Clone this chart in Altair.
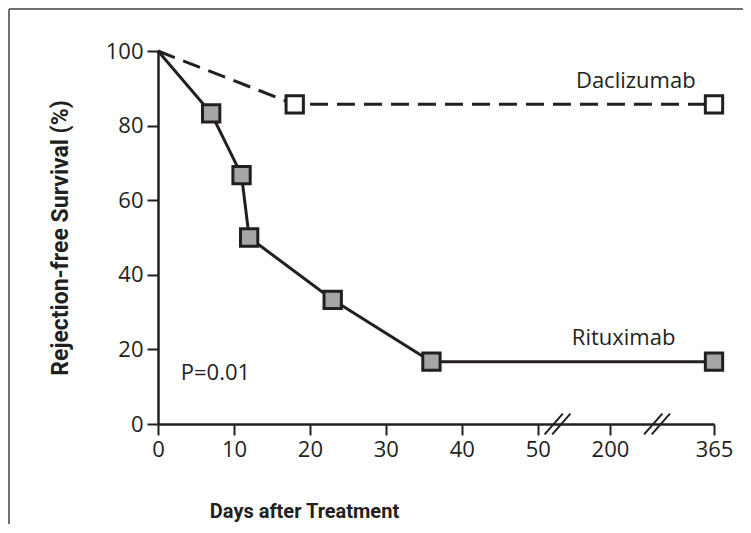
import altair as alt
import numpy as np
import pandas as pd

# ---- data ----
ritux_days = [0, 7, 11, 12, 23, 36, 365]
ritux_surv = [100, 83.3, 66.7, 50.0, 33.3, 16.7, 16.7]
dacli_days = [0, 18, 365]
dacli_surv = [100, 85.7, 85.7]

x_tick_days = [0, 10, 20, 30, 40, 50, 200, 365]
y_ticks = [0, 20, 40, 60, 80, 100]

# broken axis: piecewise-linear display scale
anchor_days = [0, 50, 200, 365]
anchor_pos = [0, 50, 59.5, 73.2]
break_pos = [52.6, 65.7]


def to_pos(d):
    return float(np.interp(d, anchor_days, anchor_pos))


INK = "#231f20"
FONT = "Open Sans"
TFONT = "Roboto"

W, H = 556, 373
XMAX = anchor_pos[-1]

rit = pd.DataFrame({"day": ritux_days, "surv": ritux_surv, "series": "Rituximab"})
dac = pd.DataFrame({"day": dacli_days, "surv": dacli_surv, "series": "Daclizumab"})
for df in (rit, dac):
    df["pos"] = df["day"].map(to_pos)

tick_pos = [to_pos(d) for d in x_tick_days]
label_expr = "".join(
    f"abs(datum.value - {p}) < 0.01 ? '{d}' : " for p, d in zip(tick_pos, x_tick_days)
) + "datum.label"

xscale = alt.Scale(domain=[0, XMAX], nice=False, zero=True)
yscale = alt.Scale(domain=[0, 100], nice=False)

xaxis = alt.Axis(
    values=tick_pos, labelExpr=label_expr, title="Days after Treatment",
    titleX=146, titleY=93, titleAlign="center", titleBaseline="alphabetic",
    titleAnchor="start", labelFlush=False, titleFontSize=20,
)
yaxis = alt.Axis(
    values=y_ticks, title="Rejection-free Survival (%)",
    titleX=-98, titleY=H / 2, titleAngle=-90, titleAlign="center",
    titleBaseline="middle", titleAnchor="start", labelFlush=False, titleFontSize=23,
)

X = alt.X("pos:Q", scale=xscale, axis=xaxis)
Y = alt.Y("surv:Q", scale=yscale, axis=yaxis)

line_r = alt.Chart(rit).mark_line(color=INK, strokeWidth=3).encode(x=X, y=Y)
line_d = alt.Chart(dac).mark_line(color=INK, strokeWidth=3, strokeDash=[18, 9]).encode(x=X, y=Y)

pts_r = alt.Chart(rit[rit.day > 0]).mark_point(
    shape="square", size=300, filled=True, fill="#a6a6a6", stroke=INK, strokeWidth=3, opacity=1
).encode(x="pos:Q", y="surv:Q")
pts_d = alt.Chart(dac[dac.day > 0]).mark_point(
    shape="square", size=300, filled=True, fill="white", stroke=INK, strokeWidth=3, opacity=1
).encode(x="pos:Q", y="surv:Q")

# labels
ann = pd.DataFrame({
    "pos": [62.9, 61.3],
    "surv": [90.0, 21.2],
    "txt": ["Daclizumab", "Rituximab"],
})
txt = alt.Chart(ann).mark_text(font=FONT, fontSize=22, color=INK, align="center", baseline="alphabetic").encode(
    x="pos:Q", y="surv:Q", text="txt:N")
pval = alt.Chart(pd.DataFrame({"pos": [3.0], "surv": [11.8], "txt": ["P=0.01"]})).mark_text(
    font=FONT, fontSize=22, color=INK, align="left", baseline="alphabetic").encode(
    x="pos:Q", y="surv:Q", text="txt:N")

# axis break marks "//"
brk_rows = []
for b in break_pos:
    for off in (-0.5, 0.5):
        brk_rows.append({"x1": b + off - 1.2, "y1": -2.8, "x2": b + off + 1.2, "y2": 2.8})
brk = alt.Chart(pd.DataFrame(brk_rows)).mark_rule(color=INK, strokeWidth=2, clip=False).encode(
    x="x1:Q", y="y1:Q", x2="x2:Q", y2="y2:Q")

# outer frame (top and left edges)
one = pd.DataFrame({"a": [0]})
frame_top = alt.Chart(one).mark_rule(color="#707070", strokeWidth=2).encode(
    x=alt.value(-149), x2=alt.value(590), y=alt.value(-42))
frame_left = alt.Chart(one).mark_rule(color="#707070", strokeWidth=2).encode(
    x=alt.value(-149), y=alt.value(-42), y2=alt.value(480))

chart = alt.layer(
    frame_top, frame_left, line_d, line_r, brk, pts_d, pts_r, txt, pval
).properties(
    width=W, height=H,
    autosize=alt.AutoSizeParams(type="none"),
    padding={"left": 150, "top": 43, "right": 29, "bottom": 100},
).configure_view(stroke=None).configure_axis(
    grid=False, domainColor=INK, domainWidth=2.5, tickColor=INK, tickWidth=2, tickSize=11,
    labelFont=FONT, labelFontSize=22, labelColor=INK, labelPadding=4,
    titleFont=TFONT, titleFontWeight="bold", titleColor=INK,
)

chart.save("out.html", embed_options={"renderer": "svg", "actions": False})
